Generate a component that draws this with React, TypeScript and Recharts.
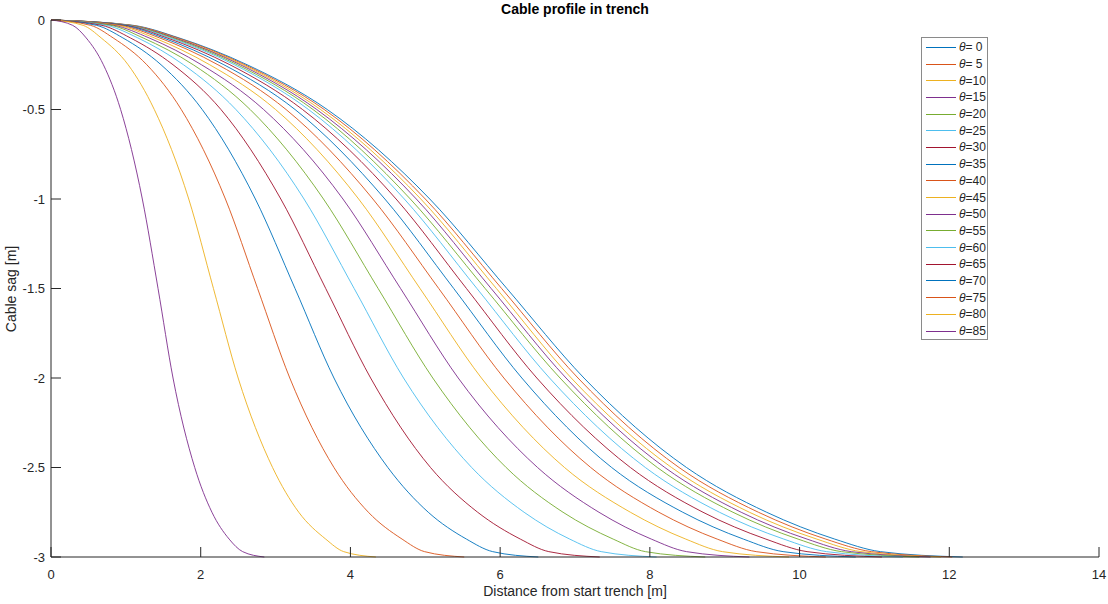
import { LineChart, Line, XAxis, YAxis } from "recharts";

// MATLAB default colour order, cycled over the series
const COLORS = ["#0072BD", "#D95319", "#EDB120", "#7E2F8E", "#77AC30", "#4DBEEE", "#A2142F"];

const THETAS = [0, 5, 10, 15, 20, 25, 30, 35, 40, 45, 50, 55, 60, 65, 70, 75, 80, 85];

const SAG = [0, -0.03, -0.1, -0.25, -0.5, -1, -1.5, -2, -2.5, -2.75, -2.9, -2.97, -3];

// distance from start trench [m] at each sag level, one array per angle
const dist0 = [0, 1.1, 1.71, 2.62, 3.69, 5.06, 6.09, 7.12, 8.49, 9.56, 10.47, 11.08, 12.18];
const dist5 = [0, 1.08, 1.69, 2.59, 3.65, 5.0, 6.02, 7.04, 8.39, 9.45, 10.35, 10.96, 12.04];
const dist10 = [0, 1.07, 1.66, 2.56, 3.6, 4.94, 5.95, 6.95, 8.29, 9.33, 10.23, 10.82, 11.89];
const dist15 = [0, 1.06, 1.65, 2.53, 3.55, 4.88, 5.88, 6.88, 8.2, 9.22, 10.1, 10.69, 11.75];
const dist20 = [0, 1.04, 1.62, 2.49, 3.5, 4.8, 5.8, 6.8, 8.1, 9.11, 9.98, 10.56, 11.6];
const dist25 = [0, 1.02, 1.59, 2.45, 3.44, 4.72, 5.69, 6.66, 7.94, 8.93, 9.79, 10.36, 11.38];
const dist30 = [0, 1.0, 1.55, 2.39, 3.36, 4.61, 5.55, 6.49, 7.74, 8.71, 9.55, 10.1, 11.1];
const dist35 = [0, 0.97, 1.5, 2.31, 3.26, 4.46, 5.38, 6.29, 7.49, 8.44, 9.25, 9.78, 10.75];
const dist40 = [0, 0.93, 1.45, 2.23, 3.14, 4.3, 5.18, 6.05, 7.21, 8.12, 8.9, 9.42, 10.35];
const dist45 = [0, 0.89, 1.38, 2.12, 3.0, 4.11, 4.93, 5.75, 6.86, 7.74, 8.48, 8.97, 9.86];
const dist50 = [0, 0.84, 1.31, 2.01, 2.84, 3.9, 4.67, 5.44, 6.5, 7.32, 8.02, 8.49, 9.33];
const dist55 = [0, 0.8, 1.23, 1.9, 2.66, 3.64, 4.37, 5.1, 6.08, 6.84, 7.51, 7.94, 8.74];
const dist60 = [0, 0.74, 1.16, 1.77, 2.47, 3.38, 4.05, 4.71, 5.62, 6.32, 6.93, 7.35, 8.09];
const dist65 = [0, 0.68, 1.06, 1.63, 2.27, 3.07, 3.67, 4.27, 5.07, 5.7, 6.27, 6.65, 7.33];
const dist70 = [0, 0.61, 0.96, 1.47, 2.02, 2.73, 3.26, 3.78, 4.5, 5.04, 5.55, 5.9, 6.51];
const dist75 = [0, 0.53, 0.83, 1.28, 1.74, 2.33, 2.76, 3.19, 3.78, 4.24, 4.69, 4.99, 5.52];
const dist80 = [0, 0.43, 0.67, 1.03, 1.38, 1.84, 2.17, 2.5, 2.96, 3.31, 3.67, 3.91, 4.34];
const dist85 = [0, 0.29, 0.47, 0.7, 0.93, 1.22, 1.43, 1.63, 1.92, 2.15, 2.38, 2.56, 2.85];

const DISTANCES = [
  dist0, dist5, dist10, dist15, dist20, dist25, dist30, dist35, dist40,
  dist45, dist50, dist55, dist60, dist65, dist70, dist75, dist80, dist85,
];

const X_TICKS = [0, 2, 4, 6, 8, 10, 12, 14];
const Y_TICKS = [-3, -2.5, -2, -1.5, -1, -0.5, 0];

const FONT = "'Liberation Sans', Arial, Helvetica, sans-serif";
const INK = "#262626";

const series = THETAS.map((theta, i) => ({
  name: theta < 10 ? `= ${theta}` : `=${theta}`,
  color: COLORS[i % COLORS.length],
  data: DISTANCES[i].map((x, j) => ({ x, y: SAG[j] })),
}));

// MATLAB style ticks point into the axes
function XTick({ x, y, payload }: any) {
  return (
    <g>
      <line x1={x} x2={x} y1={y} y2={y - 10} stroke={INK} strokeWidth={1} />
      <text x={x} y={y + 22} textAnchor="middle" fontSize={13} fill={INK} fontFamily={FONT}>
        {payload.value}
      </text>
    </g>
  );
}

function YTick({ x, y, payload }: any) {
  return (
    <g>
      <line x1={x} x2={x + 10} y1={y} y2={y} stroke={INK} strokeWidth={1} />
      <text x={x - 6} y={y + 4.5} textAnchor="end" fontSize={13} fill={INK} fontFamily={FONT}>
        {payload.value}
      </text>
    </g>
  );
}

export default function App() {
  return (
    <div style={{ position: "absolute", left: 0, top: 0, width: 1108, height: 604, background: "#fff", fontFamily: FONT }}>
      <LineChart width={1108} height={604} data={series[0].data} margin={{ top: 20, right: 9, bottom: 17, left: 0 }}>
        <XAxis
          dataKey="x"
          type="number"
          domain={[0, 14]}
          ticks={X_TICKS}
          interval={0}
          allowDataOverflow
          height={30}
          tickSize={0}
          tickMargin={0}
          tickLine={false}
          tick={<XTick />}
          axisLine={{ stroke: INK, strokeWidth: 1 }}
        />
        <YAxis
          type="number"
          domain={[-3, 0]}
          ticks={Y_TICKS}
          interval={0}
          width={51}
          tickSize={0}
          tickMargin={0}
          tickLine={false}
          tick={<YTick />}
          axisLine={{ stroke: INK, strokeWidth: 1 }}
        />
        {series.map((s) => (
          <Line
            key={s.name}
            data={s.data}
            dataKey="y"
            type="monotone"
            stroke={s.color}
            strokeWidth={1}
            strokeOpacity={0.9}
            dot={false}
            activeDot={false}
            isAnimationActive={false}
          />
        ))}
      </LineChart>

      {/* title and axis labels */}
      <div style={{ position: "absolute", left: 51, width: 1048, top: 1, textAlign: "center", fontSize: 14, fontWeight: 700, color: "#000" }}>
        Cable profile in trench
      </div>
      <div style={{ position: "absolute", left: 51, width: 1048, top: 583, textAlign: "center", fontSize: 14, color: INK }}>
        Distance from start trench [m]
      </div>
      <div
        style={{
          position: "absolute",
          left: 11,
          top: 289,
          transform: "translate(-50%, -50%) rotate(-90deg)",
          whiteSpace: "nowrap",
          fontSize: 14,
          color: INK,
        }}
      >
        Cable sag [m]
      </div>

      {/* legend */}
      <div
        style={{
          position: "absolute",
          left: 921,
          top: 37,
          width: 65,
          height: 300,
          border: "1px solid #8a8a8a",
          background: "#fff",
          paddingTop: 1,
          boxSizing: "content-box",
        }}
      >
        {series.map((s) => (
          <div key={s.name} style={{ display: "flex", alignItems: "center", height: 16.7, fontSize: 12, color: INK }}>
            <span style={{ width: 30, height: 0, borderTop: `1px solid ${s.color}`, marginLeft: 4, marginRight: 3 }} />
            <span style={{ whiteSpace: "pre" }}>
              <i>θ</i>
              {s.name}
            </span>
          </div>
        ))}
      </div>
    </div>
  );
}
